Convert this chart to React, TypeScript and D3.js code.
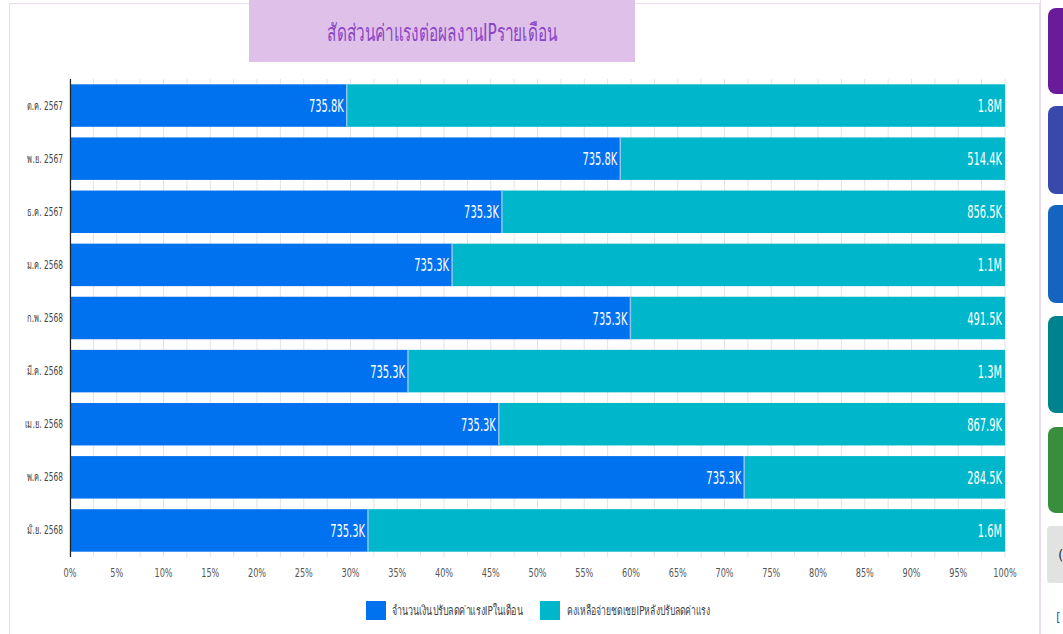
import React from "react";
import * as d3 from "d3";

const months = [
  "ต.ค. 2567",
  "พ.ย. 2567",
  "ธ.ค. 2567",
  "ม.ค. 2568",
  "ก.พ. 2568",
  "มี.ค. 2568",
  "เม.ย. 2568",
  "พ.ค. 2568",
  "มิ.ย. 2568",
];
const reduced = [735800, 735800, 735300, 735300, 735300, 735300, 735300, 735300, 735300];
const remaining = [1750000, 514400, 856500, 1064000, 491500, 1299000, 867900, 284500, 1572000];
const seriesNames = ["จำนวนเงินปรับลดค่าแรงIPในเดือน", "คงเหลือจ่ายชดเชยIPหลังปรับลดค่าแรง"];
const colors = ["#0072f0", "#00b6cb"];
const title = "สัดส่วนค่าแรงต่อผลงานIPรายเดือน";
const sideColors = ["#6a1b9a", "#3949ab", "#1565c0", "#00838f", "#388e3c"];

const FONT = "'DejaVu Sans', sans-serif";

function fmt(v: number) {
  if (v >= 1e6) return (v / 1e6).toFixed(1) + "M";
  return (v / 1e3).toFixed(1) + "K";
}

function CText(props: {
  x: number;
  y: number;
  sx: number;
  size: number;
  fill: string;
  anchor?: string;
  children: React.ReactNode;
}) {
  return (
    <text
      transform={`translate(${props.x},${props.y}) scale(${props.sx},1)`}
      textAnchor={props.anchor || "start"}
      fontSize={props.size}
      fill={props.fill}
    >
      {props.children}
    </text>
  );
}

export default function App() {
  const W = 1063, H = 634;
  const x0 = 70, x1 = 1005;
  const x = d3.scaleLinear().domain([0, 1]).range([x0, x1]);
  const y = d3.scaleBand().domain(months).range([79, 557]).paddingInner(0.2).paddingOuter(0.1);
  const gridTicks = d3.range(0, 1.0001, 0.025);
  const labelTicks = d3.range(0, 1.0001, 0.05);
  const pct = d3.format(".0%");

  const rows = months.map((m, i) => {
    const tot = reduced[i] + remaining[i];
    return { m, a: reduced[i], b: remaining[i], fa: reduced[i] / tot };
  });

  return (
    <svg width={W} height={H} style={{ position: "absolute", left: 0, top: 0, fontFamily: FONT }}>
      <rect x={0} y={0} width={W} height={H} fill="#fff" />
      {/* card */}
      <rect x={9.5} y={3.5} width={1030} height={640} fill="#fff" stroke="#eadcef" />
      {/* title */}
      <rect x={249} y={0} width={386} height={62} fill="#dfc0e8" />
      <text x={327} y={41} fontSize={24} fill="#8a45c6" textLength={230} lengthAdjust="spacingAndGlyphs">
        {title}
      </text>
      {/* grid */}
      {gridTicks.map((t, i) => (
        <line key={"g" + i} x1={x(t)} x2={x(t)} y1={79} y2={557} stroke="#e3e3e3" strokeWidth={1} />
      ))}
      {/* bars */}
      {rows.map((r) => {
        const by = y(r.m)!;
        const cy = by + y.bandwidth() / 2;
        return (
          <g key={r.m}>
            <rect x={x(0)} y={by} width={x(r.fa) - x(0)} height={y.bandwidth()} fill={colors[0]} />
            <rect x={x(r.fa)} y={by} width={x(1) - x(r.fa)} height={y.bandwidth()} fill={colors[1]} />
            <line x1={x(r.fa)} x2={x(r.fa)} y1={by} y2={by + y.bandwidth()} stroke="#8fc4f7" strokeWidth={1.5} />
            <CText x={x(r.fa) - 3} y={cy + 6.5} sx={0.55} size={18} fill="#fff" anchor="end">
              {fmt(r.a)}
            </CText>
            <CText x={x(1) - 3} y={cy + 6.5} sx={0.55} size={18} fill="#fff" anchor="end">
              {fmt(r.b)}
            </CText>
            <CText x={63} y={cy + 4} sx={0.62} size={12} fill="#444" anchor="end">
              {r.m}
            </CText>
          </g>
        );
      })}
      {/* axis line */}
      <line x1={x0 + 0.5} x2={x0 + 0.5} y1={79} y2={557} stroke="#222" strokeWidth={1.2} />
      {/* x labels */}
      {labelTicks.map((t, i) => (
        <CText key={"l" + i} x={x(t)} y={577} sx={0.68} size={12} fill="#555" anchor="middle">
          {pct(t)}
        </CText>
      ))}
      {/* legend */}
      <rect x={366} y={601} width={20} height={19} fill={colors[0]} />
      <text x={392} y={615} fontSize={13} fill="#444" textLength={131} lengthAdjust="spacingAndGlyphs">
        {seriesNames[0]}
      </text>
      <rect x={540} y={601} width={20} height={19} fill={colors[1]} />
      <text x={567} y={615} fontSize={13} fill="#444" textLength={143} lengthAdjust="spacingAndGlyphs">
        {seriesNames[1]}
      </text>
      {/* side panel */}
      <rect x={1040} y={0} width={23} height={H} fill="#fff" />
      <line x1={1040.5} x2={1040.5} y1={0} y2={H} stroke="#eadcef" />
      {sideColors.map((c, i) => {
        const ys = [8, 106, 205, 316, 427];
        const hs = [86, 88, 98, 97, 86];
        return <rect key={c} x={1048} y={ys[i]} width={30} height={hs[i]} rx={8} fill={c} />;
      })}
      <rect x={1047} y={526} width={30} height={57} rx={4} fill="#e2e2e2" />
      <text x={1058} y={560} fontSize={14} fill="#333">(</text>
      <text x={1056} y={622} fontSize={12} fill="#1a66d2">[</text>
    </svg>
  );
}
